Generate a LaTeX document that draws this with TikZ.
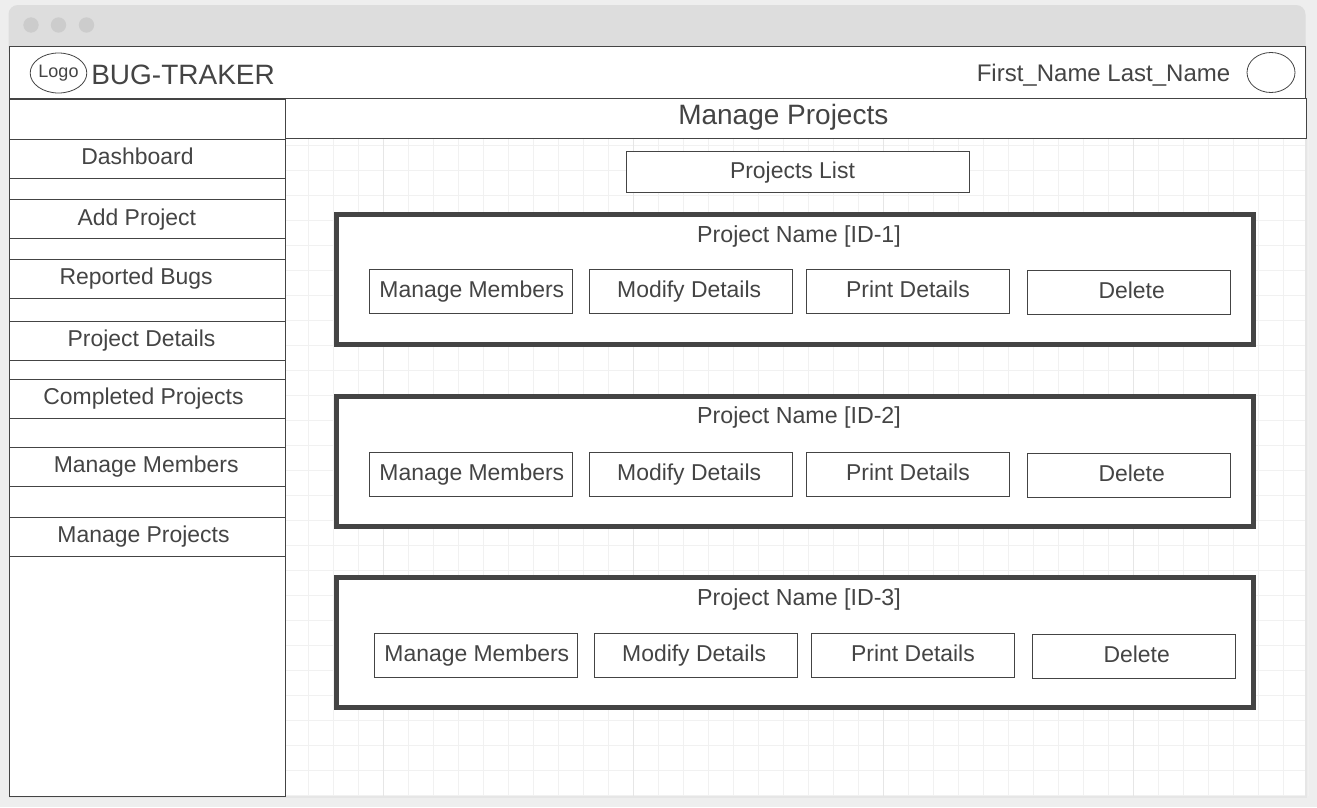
\documentclass[tikz,border=0pt]{standalone}
\usepackage{fontspec}
\setmainfont{Liberation Sans}
\usetikzlibrary{positioning}
\definecolor{pagegray}{HTML}{EEEEEE}
\definecolor{barcolor}{HTML}{DDDDDD}
\definecolor{dotcolor}{HTML}{CCCCCC}
\definecolor{inkcolor}{HTML}{444444}
\definecolor{gridminor}{HTML}{F1F1F1}
\definecolor{gridmajor}{HTML}{E6E6E6}
\tikzset{%
  % Specifications for style of lines:
   gridline/.style={gridminor, line width=0.75pt},
   gridheavy/.style={gridmajor, line width=0.75pt},
  % Specifications for style of nodes:
   base/.style = {rectangle, draw=inkcolor, fill=white, line width=0.75pt,
                  inner sep=0pt, text=inkcolor, font=\fontsize{17.2}{20}\selectfont,
                  text height=12.5pt, text depth=3pt, text centered},
   size/.style 2 args = {minimum width=#1*0.75pt, minimum height=#2*0.75pt},
   nudge/.style = {execute at begin node={\kern#1pt}},
   menuitem/.style = {base, size={276}{39}},
   action/.style = {base, size={203}{44}},
   card/.style = {base, size={917}{130}, line width=3.75pt},
   caption/.style = {text=inkcolor, font=\fontsize{17.4}{20}\selectfont, inner sep=0pt},
   disc/.style = {circle, fill=dotcolor, minimum size=11.5pt, inner sep=0pt},
   round/.style = {ellipse, draw=inkcolor, fill=white, line width=0.6pt, inner sep=0pt,
                   text=inkcolor, font=\fontsize{13.5}{16}\selectfont},
}
\usetikzlibrary{shapes.geometric}
\begin{document}
\begin{tikzpicture}[x=0.75pt, y=-0.75pt]
  \useasboundingbox (0,0) rectangle (1317,807);
  \fill[pagegray] (0,0) rectangle (1317,807);

  % Window and its title bar
  \fill[white] (9,46) rectangle (1305,796);
  \fill[gridmajor] (9,796) rectangle (1305,797.5);
  \fill[gridmajor] (1305,46) rectangle (1306.5,797.5);
  \fill[barcolor, rounded corners=7pt] (8.5,5) rectangle (1305.5,60);
  \fill[white] (8.5,46.5) rectangle (1305.5,62);
  \node (dot_a) [disc] at (31,25) {};
  \node (dot_b) [disc] at (58.5,25) {};
  \node (dot_c) [disc] at (86.5,25) {};

  % Grid
  \foreach \gx in {308,333,...,1308}
    \draw[gridline] (\gx+.3,139) -- (\gx+.3,796);
  \foreach \gy in {145,170,...,795}
    \draw[gridline] (286,\gy) -- (1305,\gy);
  \foreach \gx in {383,633,883,1133}
    \draw[gridheavy] (\gx+.3,139) -- (\gx+.3,796);

  % Specification of nodes (position, etc.)
  \node (header_block) [base, size={1296}{52}] at (657.5,72.5) {};
  \node (logo_block) [round, minimum width=35pt, minimum height=30pt] at (58.5,73) {Logo};
  \node (brand_text) [caption, anchor=west, font=\fontsize{21}{24}\selectfont] at (91,75) {BUG-TRAKER};
  \node (user_text) [caption, anchor=east, font=\fontsize{18}{22}\selectfont] at (1230.5,75) {First\_Name Last\_Name};
  \node (avatar_block) [round, minimum width=36pt, minimum height=30pt] at (1271,72.5) {};

  \node (sidebar_block) [base, size={276}{697}] at (147.5,447.5) {};
  \node (title_block) [base, size={1021}{40}, nudge=-19, font=\fontsize{21}{24}\selectfont] at (796,118.5) {Manage Projects};
  \node (list_block) [base, size={343}{41}, nudge=-7.5] at (797.5,172) {Projects List};

  % Sidebar entries
  \node (dashboard_block) [menuitem, nudge=-15] at (147.5,158.5) {Dashboard};
  \node (add_block) [menuitem, nudge=-16] at (147.5,219) {Add Project};
  \node (bugs_block) [menuitem, nudge=-17] at (147.5,278.5) {Reported Bugs};
  \node (details_block) [menuitem, nudge=-9] at (147.5,340.5) {Project Details};
  \node (completed_block) [menuitem, nudge=-6] at (147.5,398.5) {Completed Projects};
  \node (members_block) [menuitem, nudge=-2] at (147.5,466.5) {Manage Members};
  \node (projects_block) [menuitem, nudge=-6] at (147.5,536.5) {Manage Projects};

  % First project
  \node (card_a) [card] at (795,279.5) {};
  \node (name_a) [caption] at (799,236) {Project Name [ID-1]};
  \node (members_a) [action, nudge=2] at (470.5,291) {Manage Members};
  \node (modify_a) [action, nudge=-2] at (690.5,291) {Modify Details};
  \node (print_a) [action] at (908,291) {Print Details};
  \node (delete_a) [action, nudge=4] at (1129,292) {Delete};

  % Second project
  \node (card_b) [card] at (795,461) {};
  \node (name_b) [caption] at (799,417) {Project Name [ID-2]};
  \node (members_b) [action, nudge=2] at (470.5,474) {Manage Members};
  \node (modify_b) [action, nudge=-2] at (690.5,474) {Modify Details};
  \node (print_b) [action] at (908,474) {Print Details};
  \node (delete_b) [action, nudge=4] at (1129,475) {Delete};

  % Third project
  \node (card_c) [card] at (795,642) {};
  \node (name_c) [caption] at (799,599) {Project Name [ID-3]};
  \node (members_c) [action, nudge=2] at (475.5,655) {Manage Members};
  \node (modify_c) [action, nudge=-2] at (695.5,655) {Modify Details};
  \node (print_c) [action] at (913,655) {Print Details};
  \node (delete_c) [action, nudge=4] at (1134,656) {Delete};

\end{tikzpicture}
\end{document}
